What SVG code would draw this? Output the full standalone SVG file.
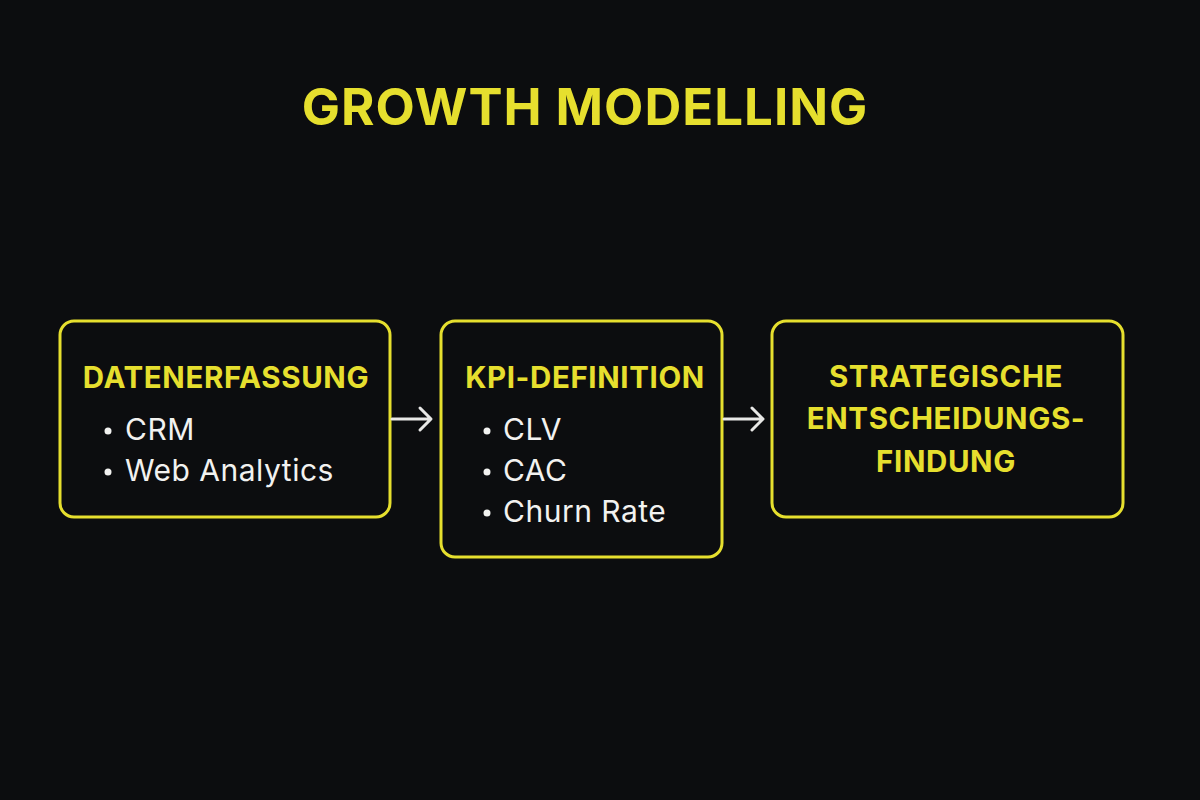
<svg xmlns="http://www.w3.org/2000/svg" width="1200" height="800" viewBox="0 0 1200 800">
<defs>
<style>
.bg{fill:#0c0d0f}
.box{fill:#0c0d0f;stroke:#e6df2e;stroke-width:3}
.title{font-family:Inter,"Liberation Sans",sans-serif;font-weight:700;fill:#e6df2e;font-size:51px;letter-spacing:1px}
.head{font-family:Inter,"Liberation Sans",sans-serif;font-weight:700;fill:#e6df2e;font-size:29.5px;letter-spacing:0.6px}
.item{font-family:Inter,"Liberation Sans",sans-serif;font-weight:400;fill:#f2f2f0;font-size:30px;letter-spacing:0.5px}
.dot{fill:#f2f2f0}
.conn{stroke:#e8e8e6;stroke-width:3;fill:none;stroke-linecap:round;stroke-linejoin:round}
</style>
</defs>
<rect class="bg" x="0" y="0" width="1200" height="800"/>
<text class="title" x="585" y="125" text-anchor="middle">GROWTH MODELLING</text>
<g id="node-datenerfassung">
<rect class="box" x="60" y="321" width="330" height="196" rx="14"/>
<text class="head" x="226" y="388" text-anchor="middle">DATENERFASSUNG</text>
<circle class="dot" cx="108" cy="431" r="3.5"/>
<text class="item" x="125" y="440">CRM</text>
<circle class="dot" cx="108" cy="472" r="3.5"/>
<text class="item" x="125" y="481">Web Analytics</text>
</g>
<g id="node-kpi">
<rect class="box" x="441" y="321" width="281" height="236" rx="14"/>
<text class="head" x="585" y="388" text-anchor="middle">KPI-DEFINITION</text>
<circle class="dot" cx="487" cy="431" r="3.5"/>
<text class="item" x="503" y="440">CLV</text>
<circle class="dot" cx="487" cy="472" r="3.5"/>
<text class="item" x="503" y="481">CAC</text>
<circle class="dot" cx="487" cy="513" r="3.5"/>
<text class="item" x="503" y="522">Churn Rate</text>
</g>
<g id="node-strategie">
<rect class="box" x="772" y="321" width="351" height="196" rx="14"/>
<text class="head" x="946" y="387" text-anchor="middle">STRATEGISCHE</text>
<text class="head" x="946" y="429" text-anchor="middle">ENTSCHEIDUNGS-</text>
<text class="head" x="946" y="472" text-anchor="middle">FINDUNG</text>
</g>
<g id="connectors">
<path class="conn" d="M392 419 H430 M420 408 L431 419 L420 430"/>
<path class="conn" d="M724 419 H762 M752 408 L763 419 L752 430"/>
</g>
</svg>
